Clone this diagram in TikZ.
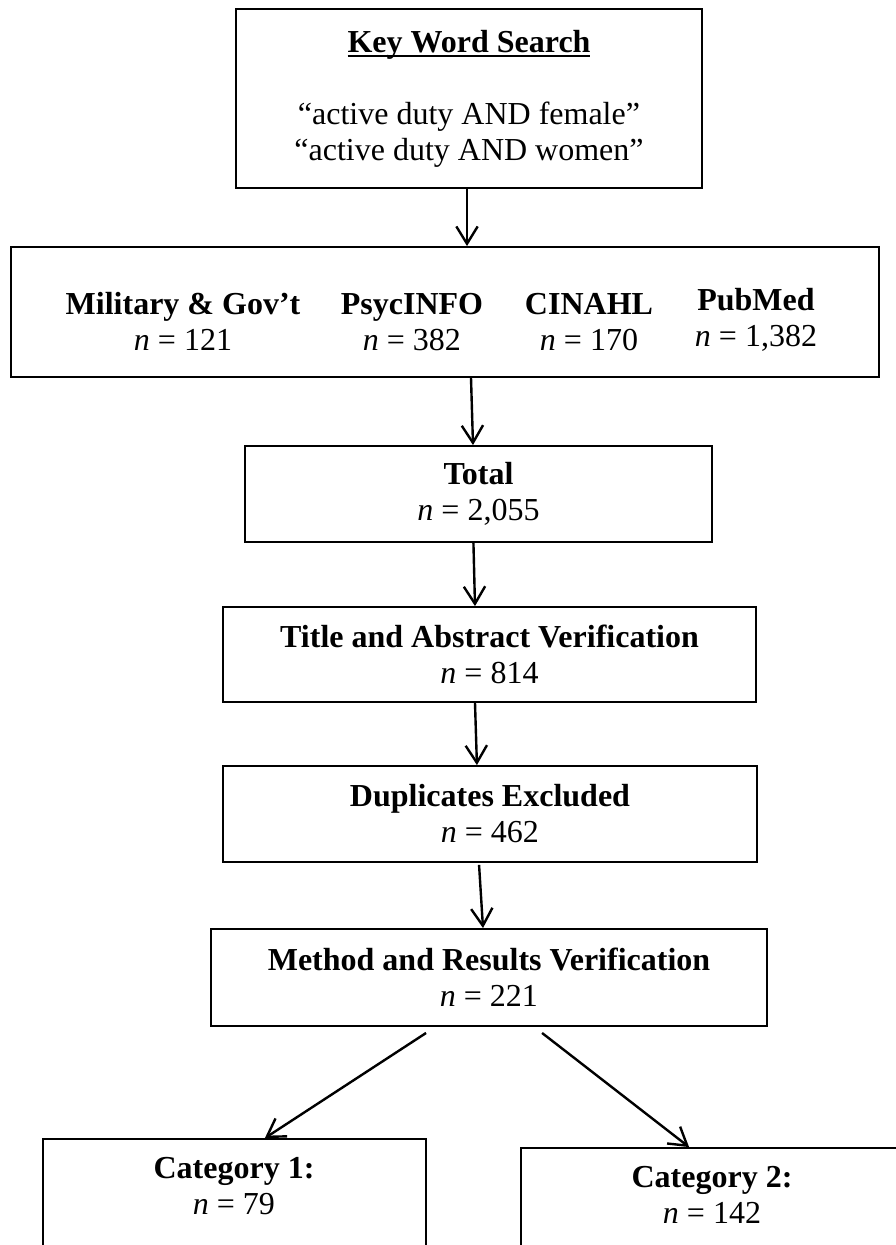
\documentclass[tikz,border=0pt]{standalone}
\usepackage{fontspec}
\setmainfont{Liberation Serif}
\usetikzlibrary{arrows.meta}
\newcommand{\wordline}[1]{\setbox0\hbox{#1}\rlap{\rule[-1.95pt]{\wd0}{0.9pt}}\box0}

\begin{document}
\begin{tikzpicture}[x=0.375pt,y=-0.375pt]
      \path[use as bounding box,clip] (0,0) rectangle (896,1245);
      \begin{scope}[every node/.style={rectangle,draw,line width=0.7pt,inner sep=0pt,align=center,font=\fontsize{12}{13.5}\selectfont}]
        \node[minimum width=174.75pt,minimum height=67.1pt] (key) at (469,98.5) {\textbf{\wordline{Key Word Search}}\\[13.5pt]“active duty AND female”\\“active duty AND women”};
        \node[minimum width=325.5pt,minimum height=48.75pt] (db) at (445,312) {};
        \node[minimum width=175.1pt,minimum height=36pt] (total) at (478.5,494) {\textbf{Total}\\\textit{n} = 2,055};
        \node[minimum width=199.9pt,minimum height=35.6pt] (title) at (489.5,654.5) {\textbf{Title and Abstract Verification}\\\textit{n} = 814};
        \node[minimum width=200.25pt,minimum height=36pt] (dup) at (490,814) {\textbf{Duplicates Excluded}\\\textit{n} = 462};
        \node[minimum width=208.5pt,minimum height=36.4pt] (meth) at (489,977.5) {\textbf{Method and Results Verification}\\\textit{n} = 221};
        \node[minimum width=143.6pt,minimum height=56.6pt] (cat1) at (234.5,1214.5) {};
        \node[minimum width=143.25pt,minimum height=53.25pt] (cat2) at (712,1219) {};
      \end{scope}
      \begin{scope}[every node/.style={inner sep=0pt,align=center,font=\fontsize{12}{13.5}\selectfont}]
        \node (mil) at (183,321.5) {\textbf{Military \& Gov’t}\\\textit{n} = 121};
        \node (psyc) at (412,322) {\textbf{PsycINFO}\\\textit{n} = 382};
        \node (cinahl) at (589,322) {\textbf{CINAHL}\\\textit{n} = 170};
        \node (pubmed) at (756,319.5) {\textbf{PubMed}\\\textit{n} = 1,382};
        \node (cat1txt) at (234,1186) {\textbf{Category 1:}\\\textit{n} = 79};
        \node (cat2txt) at (712,1194.5) {\textbf{Category 2:}\\\textit{n} = 142};
      \end{scope}
      \begin{scope}[every edge/.style={draw,line width=0.9pt,-{Straight Barb[length=6.5pt,width=8pt]}}]
        \path ([xshift=-0.75pt]key.south) edge ([xshift=8.25pt]db.north);
        \path ([xshift=9.75pt]db.south) edge ([xshift=-2.06pt]total.north);
        \path ([xshift=-1.9pt]total.south) edge ([xshift=-5.44pt]title.north);
        \path ([xshift=-5.44pt]title.south) edge ([xshift=-4.9pt]dup.north);
        \path ([xshift=-4.1pt,yshift=-0.75pt]dup.south) edge ([xshift=-2.25pt]meth.north);
        \path ([xshift=-23.6pt,yshift=-2.25pt]meth.south) edge ([xshift=11.4pt]cat1.north);
        \path ([xshift=19.9pt,yshift=-2.25pt]meth.south) edge ([xshift=-8.6pt]cat2.north);
      \end{scope}
    \end{tikzpicture}
\end{document}
